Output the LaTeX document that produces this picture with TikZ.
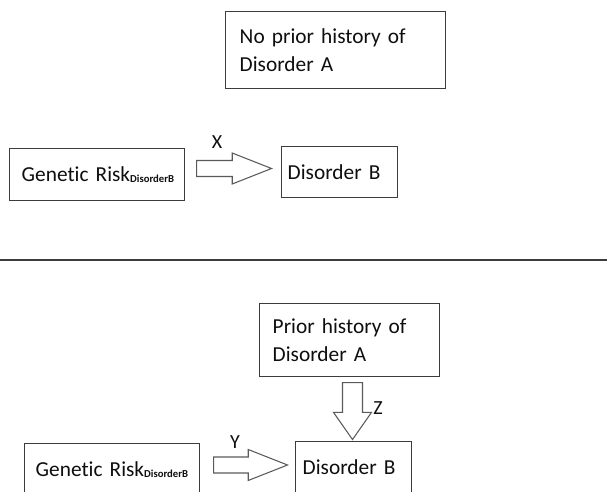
\documentclass[tikz,border=0pt]{standalone}
\usepackage{fontspec}
\setmainfont{Carlito}[Ligatures=NoCommon]
\usetikzlibrary{shapes.arrows}
\definecolor{boxgray}{HTML}{3C3C3C}
\definecolor{arrgray}{HTML}{5A5A5A}
\definecolor{txtgray}{HTML}{0E0E0E}

\tikzset{
  box/.style={rectangle,draw=boxgray,line width=1.1pt,anchor=north west,align=left,text=txtgray,font=\fontsize{16}{21}\selectfont},
  blockarrow/.style={single arrow,draw=arrgray,line width=0.8pt,inner xsep=0pt,inner ysep=5.6pt,anchor=tail,single arrow head extend=5.6pt},
  lbl/.style={text=txtgray,font=\fontsize{15}{18}\selectfont,inner sep=0pt}
}
\newcommand{\subdis}{\raisebox{-0.4pt}{\fontsize{8}{9}\selectfont\bfseries DisorderB}}

\begin{document}
\begin{tikzpicture}[x=0.75pt,y=-0.75pt]
\useasboundingbox (0,0) rectangle (607,492);

% without prior history
\node(noHist) at (225,11) [box,inner xsep=10.5pt,text width=144pt,minimum height=57.75pt]{No prior history of\\Disorder A};
\node(riskTop) at (9,148) [box,inner xsep=9pt,text width=113.25pt,minimum height=39pt]{\mbox{Genetic Risk\subdis}};
\node(disBTop) at (281,146) [box,inner xsep=4.5pt,text width=78pt,minimum height=38.25pt]{Disorder B};
\node(arrX) at (196,168.5) [blockarrow,minimum height=56.25pt,single arrow tip angle=43]{};
\node(lblX) at (217,142) [lbl]{X};

\draw[draw=boxgray,line width=2.2pt] (0,260) -- (607,260);

% with prior history
\node(hist) at (259,303) [box,inner xsep=9.75pt,text width=115.5pt,minimum height=54.75pt]{Prior history of\\Disorder A};
\node(riskBot) at (24,443) [box,inner xsep=8.25pt,text width=114.75pt,minimum height=39pt]{\mbox{Genetic Risk\subdis}};
\node(disBBot) at (295,441) [box,inner xsep=5.25pt,text width=76.5pt,minimum height=38.25pt]{Disorder B};
\node(arrY) at (213,465) [blockarrow,minimum height=55.5pt,single arrow tip angle=43]{};
\node(lblY) at (235,442) [lbl]{Y};
\node(arrZ) at (352.5,382) [blockarrow,rotate=-90,minimum height=42.75pt,inner ysep=7.1pt,single arrow head extend=6.75pt,single arrow tip angle=70]{};
\node(lblZ) at (378,408) [lbl]{Z};
\end{tikzpicture}
\end{document}
